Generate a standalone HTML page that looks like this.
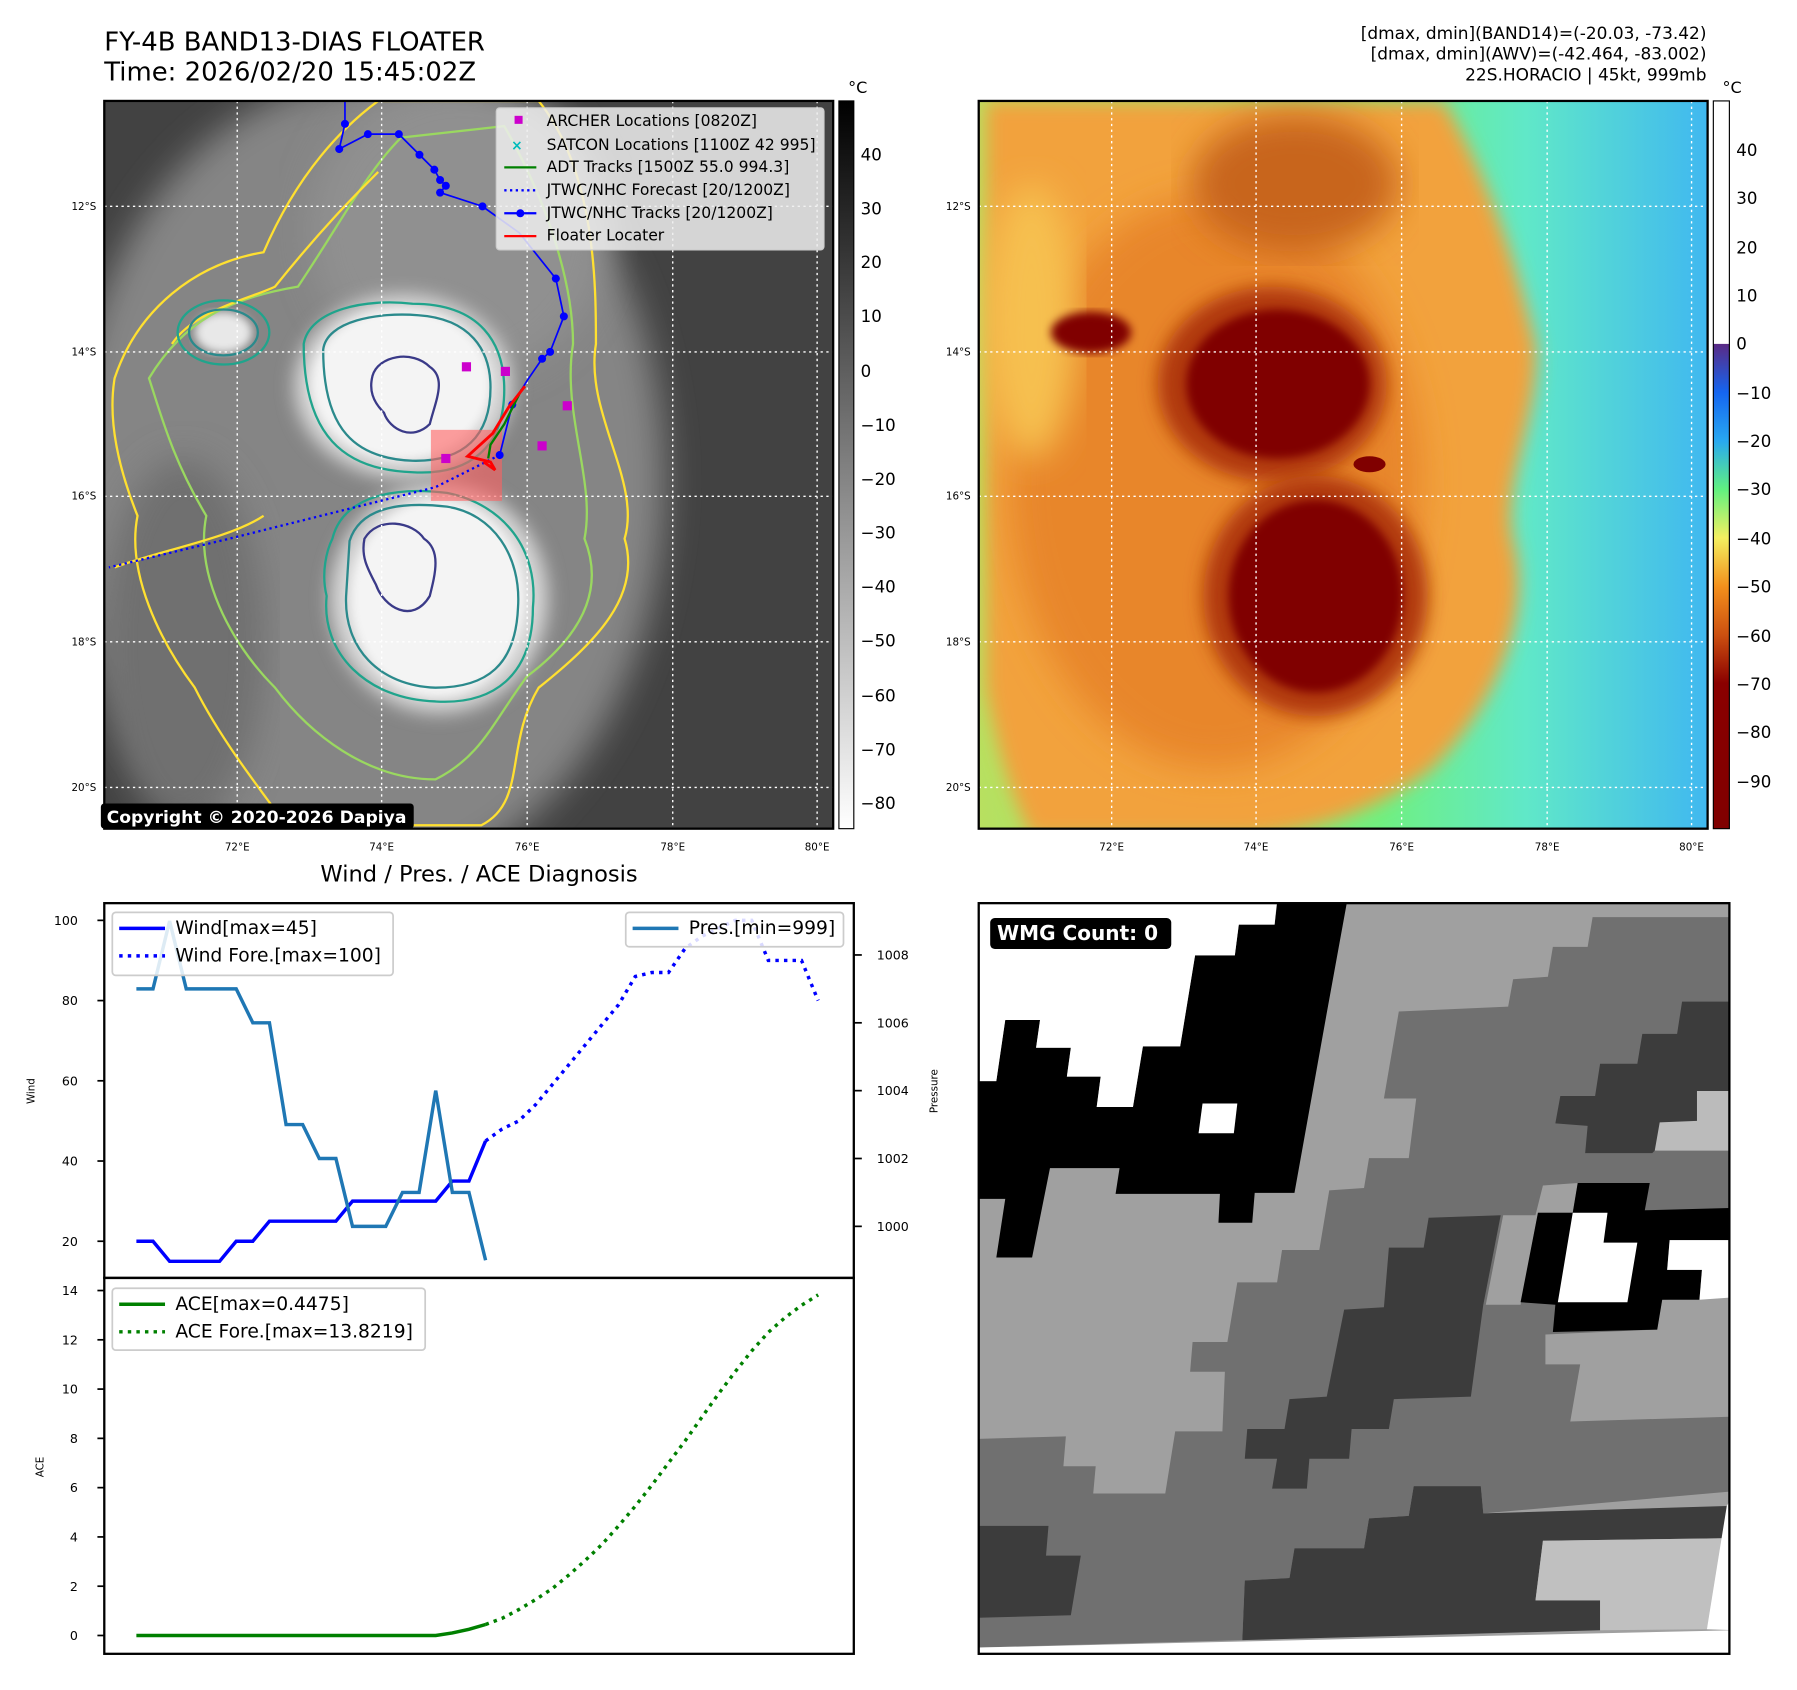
<!DOCTYPE html>
<html><head><meta charset="utf-8"><style>
html,body{margin:0;padding:0;background:#fff}
svg{display:block;font-family:"DejaVu Sans","Liberation Sans",sans-serif}
</style></head><body>
<svg id="fig" width="1797" height="1690" viewBox="0 0 1568 1474.5" xmlns="http://www.w3.org/2000/svg">
<defs>
<filter id="b8"><feGaussianBlur stdDeviation="8"/></filter>
<filter id="b4"><feGaussianBlur stdDeviation="4"/></filter>
<filter id="b15"><feGaussianBlur stdDeviation="15"/></filter>
<clipPath id="c1"><rect x="91" y="88" width="636" height="635"/></clipPath>
<clipPath id="c2"><rect x="854" y="88" width="636" height="635"/></clipPath>
<clipPath id="c3"><rect x="854" y="788" width="655" height="655"/></clipPath>
<linearGradient id="gcb1" x1="0" y1="0" x2="0" y2="1"><stop offset="0" stop-color="#000"/><stop offset="1" stop-color="#fff"/></linearGradient>
<linearGradient id="gcb2" x1="0" y1="0" x2="0" y2="1">
<stop offset="0" stop-color="#5a2a85"/><stop offset="0.1" stop-color="#1565f0"/><stop offset="0.2" stop-color="#28a8f0"/><stop offset="0.3" stop-color="#60f080"/><stop offset="0.4" stop-color="#f4f060"/><stop offset="0.5" stop-color="#f4901c"/><stop offset="0.6" stop-color="#cc5010"/><stop offset="0.7" stop-color="#8a0000"/><stop offset="1" stop-color="#800000"/></linearGradient>
<linearGradient id="gbg2" x1="0" y1="0" x2="1" y2="0">
<stop offset="0" stop-color="#b8e060"/><stop offset="0.55" stop-color="#70f080"/><stop offset="0.75" stop-color="#60e8c8"/><stop offset="1" stop-color="#40b8f0"/></linearGradient>
</defs>

<text x="91" y="44" font-size="22.6">FY-4B BAND13-DIAS FLOATER</text>
<text x="91" y="70" font-size="22.6">Time: 2026/02/20 15:45:02Z</text>
<g font-size="14.8" text-anchor="end">
<text x="1489" y="34">[dmax, dmin](BAND14)=(-20.03, -73.42)</text>
<text x="1489" y="52">[dmax, dmin](AWV)=(-42.464, -83.002)</text>
<text x="1489" y="70">22S.HORACIO | 45kt, 999mb</text>
</g>

<!-- MAP 1 -->
<g clip-path="url(#c1)">
<rect x="91" y="88" width="636" height="635" fill="#424242"/>
<ellipse cx="320" cy="420" rx="260" ry="350" fill="#858585" filter="url(#b15)"/>
<ellipse cx="400" cy="200" rx="130" ry="130" fill="#909090" filter="url(#b15)"/>
<ellipse cx="160" cy="560" rx="70" ry="160" fill="#707070" filter="url(#b15)"/>
<ellipse cx="352" cy="337" rx="95" ry="80" fill="#d8d8d8" filter="url(#b8)"/>
<ellipse cx="383" cy="522" rx="95" ry="100" fill="#d8d8d8" filter="url(#b8)"/>
<ellipse cx="350" cy="335" rx="78" ry="66" fill="#f4f4f4" filter="url(#b4)"/>
<ellipse cx="382" cy="522" rx="76" ry="86" fill="#f4f4f4" filter="url(#b4)"/>
<ellipse cx="195" cy="290" rx="25" ry="18" fill="#e8e8e8" filter="url(#b4)"/>
<g fill="none" stroke-width="2">
<path d="M100,330 C120,270 170,230 230,220 C260,150 300,110 330,88 L470,88 C520,150 520,250 520,300 C510,360 560,420 545,470 C560,520 520,560 470,600 C440,650 460,700 420,720 L250,720 C220,680 190,640 170,600 C140,560 110,500 120,450 C100,400 95,360 100,330 Z" stroke="#ffe030"/>
<path d="M130,330 C160,280 200,260 260,250 C300,190 320,150 350,120 L440,110 C480,180 500,250 500,300 C490,360 520,420 510,470 C530,520 500,560 460,590 C430,630 420,660 380,680 C320,680 270,640 240,600 C200,560 170,500 180,450 C150,400 140,360 130,330 Z" stroke="#9ad860"/>
<path d="M150,300 C170,270 220,260 240,250 C280,200 310,170 330,150" stroke="#ffe030"/>
<path d="M100,495 C140,480 200,470 230,450" stroke="#ffe030"/>
<path d="M265,300 C270,270 320,260 360,265 C420,265 440,300 440,340 C440,390 410,415 360,412 C300,410 265,380 265,300 Z" stroke="#20a48c"/>
<path d="M282,305 C285,280 330,272 365,275 C410,278 428,305 428,338 C428,380 405,403 360,402 C310,400 282,375 282,305 Z" stroke="#2b8a8c"/>
<path d="M290,470 C300,430 350,425 390,430 C440,440 470,480 465,530 C465,590 430,615 380,612 C320,610 280,570 285,520 C280,500 285,480 290,470 Z" stroke="#20a48c"/>
<path d="M305,472 C315,440 355,438 390,442 C430,448 455,485 452,530 C450,580 425,600 380,600 C330,598 300,565 302,520 Z" stroke="#2b8a8c"/>
<path d="M325,328 C330,310 360,305 375,320 C390,330 380,350 375,370 C360,385 340,375 335,360 C325,350 322,340 325,328 Z" stroke="#3a3a88"/>
<path d="M318,470 C330,450 360,455 370,470 C385,480 380,500 375,520 C360,545 335,530 328,510 C320,495 315,485 318,470 Z" stroke="#3a3a88"/>
<ellipse cx="195" cy="290" rx="30" ry="20" stroke="#2b8a8c"/>
<ellipse cx="195" cy="290" rx="40" ry="28" stroke="#20a48c"/>
</g>
<g stroke="#fff" stroke-width="1.2" stroke-dasharray="2,3" fill="none">
<line x1="207" y1="88" x2="207" y2="723"/><line x1="333" y1="88" x2="333" y2="723"/><line x1="460" y1="88" x2="460" y2="723"/><line x1="587" y1="88" x2="587" y2="723"/><line x1="713" y1="88" x2="713" y2="723"/>
<line x1="91" y1="180" x2="727" y2="180"/><line x1="91" y1="307" x2="727" y2="307"/><line x1="91" y1="433" x2="727" y2="433"/><line x1="91" y1="560" x2="727" y2="560"/><line x1="91" y1="687" x2="727" y2="687"/>
</g>
<rect x="376" y="375" width="62" height="62" fill="#ff6060" opacity="0.6"/>
<polyline points="436,397 380,425 300,445 200,470 95,495" fill="none" stroke="#0000ff" stroke-width="2" stroke-dasharray="2,3"/>
<polyline points="301,88 301,108 296,130 321,117 348,117 366,135 379,148 384,157 389,162 384,168 421,180 453,203 485,243 492,276 480,307 473,313 460,332 447,353 436,397" fill="none" stroke="#0000ff" stroke-width="1.5"/>
<g fill="#0000ff"><circle cx="301" cy="108" r="3.5"/><circle cx="296" cy="130" r="3.5"/><circle cx="321" cy="117" r="3.5"/><circle cx="348" cy="117" r="3.5"/><circle cx="366" cy="135" r="3.5"/><circle cx="379" cy="148" r="3.5"/><circle cx="384" cy="157" r="3.5"/><circle cx="389" cy="162" r="3.5"/><circle cx="384" cy="168" r="3.5"/><circle cx="421" cy="180" r="3.5"/><circle cx="485" cy="243" r="3.5"/><circle cx="492" cy="276" r="3.5"/><circle cx="480" cy="307" r="3.5"/><circle cx="473" cy="313" r="3.5"/><circle cx="447" cy="353" r="3.5"/><circle cx="436" cy="397" r="3.5"/></g>
<polyline points="455,340 440,370 428,388 426,400" fill="none" stroke="#008000" stroke-width="2"/>
<polyline points="458,337 444,355 430,378 408,398 428,403 432,410 422,403" fill="none" stroke="#ff0000" stroke-width="2.5"/>
<g fill="#cc00cc"><rect x="403" y="316" width="8" height="8"/><rect x="437" y="320" width="8" height="8"/><rect x="491" y="350" width="8" height="8"/><rect x="469" y="385" width="8" height="8"/><rect x="385" y="396" width="8" height="8"/></g>
</g>
<rect x="91" y="88" width="636" height="635" fill="none" stroke="#000" stroke-width="2"/>
<g>
<rect x="433" y="94" width="286" height="124" rx="3" fill="#eee" fill-opacity="0.85" stroke="#ccc"/>
<g font-size="13.6">
<rect x="449" y="101" width="7" height="7" fill="#cc00cc"/><text x="477" y="110">ARCHER Locations [0820Z]</text>
<text x="446" y="131" fill="#00bbbb" font-size="12" font-weight="bold">×</text><text x="477" y="131">SATCON Locations [1100Z 42 995]</text>
<line x1="440" y1="146" x2="468" y2="146" stroke="#008000" stroke-width="2"/><text x="477" y="150">ADT Tracks [1500Z 55.0 994.3]</text>
<line x1="440" y1="166" x2="468" y2="166" stroke="#0000ff" stroke-width="2" stroke-dasharray="2,3"/><text x="477" y="170">JTWC/NHC Forecast [20/1200Z]</text>
<line x1="440" y1="186" x2="468" y2="186" stroke="#0000ff" stroke-width="2"/><circle cx="454" cy="186" r="3.5" fill="#0000ff"/><text x="477" y="190">JTWC/NHC Tracks [20/1200Z]</text>
<line x1="440" y1="206" x2="468" y2="206" stroke="#ff0000" stroke-width="2"/><text x="477" y="210">Floater Locater</text>
</g></g>
<g><rect x="88" y="701" width="273" height="22" rx="3" fill="#000"/><text x="93" y="718" fill="#fff" font-size="15" font-weight="bold">Copyright © 2020-2026 Dapiya</text></g>
<g font-size="9" text-anchor="end"><text x="84" y="183">12°S</text><text x="84" y="310">14°S</text><text x="84" y="436">16°S</text><text x="84" y="563">18°S</text><text x="84" y="690">20°S</text></g>
<g font-size="9" text-anchor="middle"><text x="207" y="742">72°E</text><text x="333" y="742">74°E</text><text x="460" y="742">76°E</text><text x="587" y="742">78°E</text><text x="713" y="742">80°E</text></g>
<g>
<rect x="732" y="88" width="13" height="635" fill="url(#gcb1)" stroke="#000" stroke-width="1"/>
<text x="740" y="81" font-size="14">°C</text>
<g font-size="14.5"><text x="751" y="140">40</text><text x="751" y="187">30</text><text x="751" y="234">20</text><text x="751" y="281">10</text><text x="751" y="329">0</text><text x="751" y="376">−10</text><text x="751" y="423">−20</text><text x="751" y="470">−30</text><text x="751" y="517">−40</text><text x="751" y="564">−50</text><text x="751" y="612">−60</text><text x="751" y="659">−70</text><text x="751" y="706">−80</text></g>
</g>

<!-- MAP 2 -->
<g clip-path="url(#c2)">
<rect x="854" y="88" width="636" height="635" fill="url(#gbg2)"/>
<path d="M860,88 L1260,88 C1300,160 1320,220 1340,300 C1345,360 1310,420 1320,470 C1340,540 1300,620 1250,670 C1200,710 1130,730 1080,730 L900,730 C880,690 870,650 860,600 Z" fill="#f2a23c" filter="url(#b8)"/>
<ellipse cx="1060" cy="420" rx="180" ry="250" fill="#e8862a" filter="url(#b15)"/>
<ellipse cx="1130" cy="160" rx="90" ry="60" fill="#c8651c" filter="url(#b15)"/>
<ellipse cx="900" cy="280" rx="40" ry="120" fill="#f6c050" filter="url(#b15)"/>
<ellipse cx="1110" cy="335" rx="100" ry="85" fill="#b03808" filter="url(#b8)"/>
<ellipse cx="1148" cy="520" rx="98" ry="105" fill="#b03808" filter="url(#b8)"/>
<ellipse cx="1115" cy="335" rx="80" ry="65" fill="#800000" filter="url(#b4)"/>
<ellipse cx="1148" cy="520" rx="76" ry="84" fill="#800000" filter="url(#b4)"/>
<ellipse cx="952" cy="290" rx="35" ry="18" fill="#800000" filter="url(#b4)"/>
<ellipse cx="1195" cy="405" rx="14" ry="7" fill="#800000"/>
<g stroke="#fff" stroke-width="1.2" stroke-dasharray="2,3" fill="none">
<line x1="970" y1="88" x2="970" y2="723"/><line x1="1096" y1="88" x2="1096" y2="723"/><line x1="1223" y1="88" x2="1223" y2="723"/><line x1="1350" y1="88" x2="1350" y2="723"/><line x1="1476" y1="88" x2="1476" y2="723"/>
<line x1="854" y1="180" x2="1490" y2="180"/><line x1="854" y1="307" x2="1490" y2="307"/><line x1="854" y1="433" x2="1490" y2="433"/><line x1="854" y1="560" x2="1490" y2="560"/><line x1="854" y1="687" x2="1490" y2="687"/>
</g>
</g>
<rect x="854" y="88" width="636" height="635" fill="none" stroke="#000" stroke-width="2"/>
<g font-size="9" text-anchor="end"><text x="847" y="183">12°S</text><text x="847" y="310">14°S</text><text x="847" y="436">16°S</text><text x="847" y="563">18°S</text><text x="847" y="690">20°S</text></g>
<g font-size="9" text-anchor="middle"><text x="970" y="742">72°E</text><text x="1096" y="742">74°E</text><text x="1223" y="742">76°E</text><text x="1350" y="742">78°E</text><text x="1476" y="742">80°E</text></g>
<g>
<rect x="1495" y="88" width="14" height="212" fill="#fff"/>
<rect x="1495" y="300" width="14" height="423" fill="url(#gcb2)"/>
<rect x="1495" y="88" width="14" height="635" fill="none" stroke="#000" stroke-width="1"/>
<text x="1503" y="81" font-size="14">°C</text>
<g font-size="14.5"><text x="1515" y="136">40</text><text x="1515" y="178">30</text><text x="1515" y="221">20</text><text x="1515" y="263">10</text><text x="1515" y="305">0</text><text x="1515" y="348">−10</text><text x="1515" y="390">−20</text><text x="1515" y="432">−30</text><text x="1515" y="475">−40</text><text x="1515" y="517">−50</text><text x="1515" y="560">−60</text><text x="1515" y="602">−70</text><text x="1515" y="644">−80</text><text x="1515" y="687">−90</text></g>
</g>

<!-- WMG panel -->
<g clip-path="url(#c3)">
<g transform="translate(852,785) scale(0.4336)">
<rect x="0" y="0" width="1540" height="1540" fill="#a0a0a0"/>
<polygon fill="#707070" points="0,1085 180,1080 175,1140 240,1140 235,1195 380,1195 400,1070 495,1070 500,950 430,950 435,890 505,890 525,770 605,770 615,705 690,705 710,585 780,580 790,520 870,520 885,400 820,400 850,225 1070,215 1080,160 1150,155 1160,95 1230,95 1240,35 1527,35 1527,1190 1020,1235 1015,1180 880,1180 870,1240 790,1245 780,1305 640,1305 630,1365 540,1370 535,1490 0,1505"/>
<polygon fill="#a0a0a0" points="1145,875 1370,865 1380,805 1527,800 1527,1040 1195,1050 1215,935 1145,935"/>
<polygon fill="#a0a0a0" points="1030,8 1100,8 1095,35 1030,35"/>
<polygon fill="#a0a0a0" points="1130,630 1200,630 1210,570 1140,575 1125,635 1060,635 1025,815 1095,815"/>
<polygon fill="#3c3c3c" points="910,640 1055,635 1020,815 995,1000 840,1005 830,1065 755,1065 750,1125 670,1125 665,1185 595,1185 605,1125 540,1125 545,1065 620,1065 630,1005 705,1000 740,825 820,820 830,700 900,700"/>
<polygon fill="#3c3c3c" points="1420,205 1527,205 1527,500 1365,505 1360,510 1225,510 1230,455 1165,450 1175,395 1245,395 1255,330 1330,330 1340,270 1410,270"/>
<polygon fill="#3c3c3c" points="0,1260 145,1260 140,1320 210,1320 190,1440 0,1445"/>
<polygon fill="#3c3c3c" points="540,1370 630,1365 640,1305 780,1305 790,1245 870,1240 880,1180 1015,1180 1020,1235 1510,1220 1505,1285 1140,1290 1125,1410 1255,1410 1255,1470 535,1490"/>
<polygon fill="#c0c0c0" points="1140,1290 1505,1285 1470,1468 1255,1470 1255,1410 1125,1410"/>
<polygon fill="#bbbbbb" points="1450,385 1527,385 1527,505 1365,505 1375,448 1450,445"/>
<polygon fill="#ffffff" points="0,1505 1527,1470 1527,1545 0,1545"/>
<polygon fill="#ffffff" points="1527,1190 1527,1470 1470,1468 1510,1220"/>
<polygon fill="#000" points="0,365 40,365 58,242 128,242 120,298 190,298 182,356 250,356 242,417 315,417 335,295 410,295 440,112 520,112 528,50 600,50 605,8 745,8 705,228 640,590 560,590 555,650 487,650 490,592 280,592 288,540 148,540 112,720 40,720 58,602 0,602"/>
<polygon fill="#fff" points="0,0 605,0 600,50 528,50 520,112 440,112 410,295 335,295 315,417 242,417 250,356 182,356 190,298 120,298 128,242 58,242 40,365 0,365"/>
<polygon fill="#fff" points="455,410 525,410 518,470 447,470"/>
<polygon fill="#000" points="1130,630 1200,630 1210,570 1355,570 1345,625 1527,620 1527,685 1395,685 1390,745 1460,745 1455,805 1380,805 1370,865 1160,870 1165,815 1095,810"/>
<polygon fill="#fff" points="1200,630 1270,630 1262,690 1330,690 1310,810 1170,810"/>
<polygon fill="#fff" points="1395,685 1527,685 1527,800 1455,805 1460,745 1390,745"/>
</g>
</g>
<rect x="854" y="788" width="655" height="655" fill="none" stroke="#000" stroke-width="2"/>
<g><rect x="864" y="801" width="158" height="27" rx="4" fill="#000"/><text x="870" y="820" fill="#fff" font-size="17.5" font-weight="bold">WMG Count: 0</text></g>

<!-- charts -->
<text x="418" y="769" font-size="19.7" text-anchor="middle">Wind / Pres. / ACE Diagnosis</text>
<g id="charts"></g>
<rect x="91" y="788" width="654" height="327" fill="none" stroke="#000" stroke-width="2"/>
<rect x="91" y="1115" width="654" height="328" fill="none" stroke="#000" stroke-width="2"/>
<text transform="translate(30,952) rotate(-90)" font-size="9" text-anchor="middle">Wind</text>
<text transform="translate(818,952) rotate(-90)" font-size="9" text-anchor="middle">Pressure</text>
<text transform="translate(38,1280) rotate(-90)" font-size="9" text-anchor="middle">ACE</text>
</svg>
<script>
const windObs = [20,20,15,15,15,15,20,20,25,25,25,25,25,30,30,30,30,30,30,35,35,45];
const windFore = [45,48,50,54,59,64,69,74,79,86,87,87,93,96,98,100,100,90,90,90,80];
const presObs = [1007,1007,1009,1007,1007,1007,1007,1006,1006,1003,1003,1002,1002,1000,1000,1000,1001,1001,1004,1001,1001,999];
const aceObs = [0,0,0,0,0,0,0,0,0,0,0,0,0,0,0,0,0,0,0,0.1,0.25,0.4475];
const aceFore = [0.4475,0.7,1.05,1.45,1.9,2.45,3.05,3.7,4.45,5.25,6.1,7.0,7.9,8.85,9.8,10.7,11.55,12.3,12.9,13.4,13.8219];
const windTicks = [20,40,60,80,100];
const presTicks = [1000,1002,1004,1006,1008];
const aceTicks = [0,2,4,6,8,10,12,14];

const NS = 'http://www.w3.org/2000/svg';
const g = document.getElementById('charts');
const X = i => 119 + i * 14.51;
const Yw = v => 1083 - (v - 20) * 3.5;
const Yp = v => 1070 - (v - 1000) * 29.6;
const Ya = v => 1427 - v * 21.5;
function mk(tag, attrs) { const e = document.createElementNS(NS, tag); for (const k in attrs) e.setAttribute(k, attrs[k]); g.appendChild(e); return e; }
function line(vals, off, yf, color, dash, name) {
  const pts = vals.map((v, i) => X(i + off).toFixed(1) + ',' + yf(v).toFixed(1)).join(' ');
  const p = mk('polyline', { points: pts, fill: 'none', stroke: color, 'stroke-width': 3 });
  if (dash) p.setAttribute('stroke-dasharray', '3,4.5');
  
  
}
function tick(x1, y, x2, tx, label, anchor, name) {
  mk('line', { x1: x1, y1: y, x2: x2, y2: y, stroke: '#000', 'stroke-width': 1.5 });
  const t = mk('text', { x: tx, y: y + 4, 'font-size': 11, 'text-anchor': anchor });
  t.textContent = label;
  
  
}
windTicks.forEach(v => tick(85, Yw(v), 91, 68, String(v), 'end', 'wind-tick-label'));
presTicks.forEach(v => tick(745, Yp(v), 752, 765, String(v), 'start', 'pressure-tick-label'));
aceTicks.forEach(v => tick(85, Ya(v), 91, 68, String(v), 'end', 'ace-tick-label'));

line(windObs, 0, Yw, '#0000ff', false, 'wind-line');
line(windFore, windObs.length - 1, Yw, '#0000ff', true, 'wind-forecast-line');
line(presObs, 0, Yp, '#1f77b4', false, 'pressure-line');
line(aceObs, 0, Ya, '#008000', false, 'ace-line');
line(aceFore, aceObs.length - 1, Ya, '#008000', true, 'ace-forecast-line');

function legend(x, y, w, h, items, name) {
  const r = mk('rect', { x: x, y: y, width: w, height: h, rx: 3, fill: '#fff', 'fill-opacity': 0.85, stroke: '#ccc', 'stroke-width': 1.5 });
  
  
  items.forEach((it, k) => {
    const yy = y + 14 + k * 24;
    const l = mk('line', { x1: x + 6, y1: yy, x2: x + 46, y2: yy, stroke: it[1], 'stroke-width': 3 });
    if (it[2]) l.setAttribute('stroke-dasharray', '3,4.5');
    const t = mk('text', { x: x + 55, y: yy + 5, 'font-size': 16.3 });
    t.textContent = it[0];
    
    
  });
}
legend(98, 796, 245, 55, [['Wind[max=45]', '#0000ff', false], ['Wind Fore.[max=100]', '#0000ff', true]], 'wind-legend');
legend(546, 796, 190, 30, [['Pres.[min=999]', '#1f77b4', false]], 'pressure-legend');
legend(98, 1124, 273, 54, [['ACE[max=0.4475]', '#008000', false], ['ACE Fore.[max=13.8219]', '#008000', true]], 'ace-legend');
</script>
</body></html>
